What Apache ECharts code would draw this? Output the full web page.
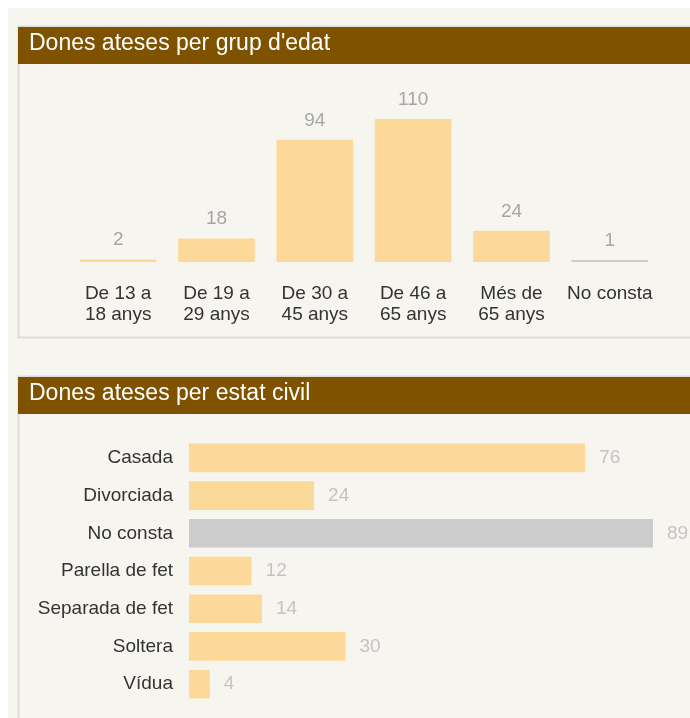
<!DOCTYPE html>
<html>
<head>
<meta charset="utf-8">
<script src="https://cdn.jsdelivr.net/npm/echarts@6/dist/echarts.min.js"></script>
<style>
  html, body { margin: 0; padding: 0; background: #fff; }
  #chart { width: 690px; height: 718px; }
</style>
</head>
<body>
<div id="chart"></div>
<script>
// grup d'edat
var ageCategories = ["De 13 a\n18 anys", "De 19 a\n29 anys", "De 30 a\n45 anys", "De 46 a\n65 anys", "Més de\n65 anys", "No consta"];
var ageValues = [2, 18, 94, 110, 24, 1];

// estat civil
var civilCategories = ["Casada", "Divorciada", "No consta", "Parella de fet", "Separada de fet", "Soltera", "Vídua"];
var civilValues = [76, 24, 89, 12, 14, 30, 4];

var FONT = "'Liberation Sans', Arial, sans-serif";
var BAR = "#fdd999";
var GREY_BAR = "#cccccc";

function barColor(name) {
  return name === "No consta" ? GREY_BAR : BAR;
}

var chart = echarts.init(document.getElementById("chart"));

chart.setOption({
  animation: false,
  backgroundColor: "#ffffff",
  textStyle: { fontFamily: FONT },
  graphic: [
    { type: "rect", z: -10, shape: { x: 8, y: 8, width: 700, height: 720 }, style: { fill: "#f7f5f0" } },
    // box 1
    { type: "rect", z: -9, shape: { x: 18.5, y: 26.5, width: 700, height: 311 }, style: { fill: "#f7f5f0", stroke: "#dcdcdc", lineWidth: 2 } },
    { type: "rect", z: -8, shape: { x: 18, y: 27, width: 680, height: 37 }, style: { fill: "#7f5200" } },
    // box 2
    { type: "rect", z: -9, shape: { x: 18.5, y: 376.5, width: 700, height: 400 }, style: { fill: "#f7f5f0", stroke: "#dcdcdc", lineWidth: 2 } },
    { type: "rect", z: -8, shape: { x: 18, y: 377, width: 680, height: 37 }, style: { fill: "#7f5200" } }
  ],
  title: [
    {
      text: "Dones ateses per grup d'edat",
      left: 24, top: 27,
      textStyle: { color: "#ffffff", fontSize: 23, fontWeight: "normal", fontFamily: FONT }
    },
    {
      text: "Dones ateses per estat civil",
      left: 24, top: 377,
      textStyle: { color: "#ffffff", fontSize: 23, fontWeight: "normal", fontFamily: FONT }
    }
  ],
  grid: [
    { left: 69, width: 590, top: 119, height: 143 },
    { left: 189, width: 464, top: 439, height: 264 }
  ],
  xAxis: [
    {
      gridIndex: 0,
      type: "category",
      data: ageCategories,
      axisLine: { show: false },
      axisTick: { show: false },
      axisLabel: { color: "#333", fontSize: 19, lineHeight: 21, margin: 21, interval: 0, fontFamily: FONT }
    },
    {
      gridIndex: 1,
      type: "value",
      min: 0,
      max: 89,
      show: false
    }
  ],
  yAxis: [
    {
      gridIndex: 0,
      type: "value",
      min: 0,
      max: 110,
      show: false
    },
    {
      gridIndex: 1,
      type: "category",
      data: civilCategories,
      inverse: true,
      axisLine: { show: false },
      axisTick: { show: false },
      axisLabel: { color: "#333", fontSize: 19, margin: 16, fontFamily: FONT }
    }
  ],
  series: [
    {
      type: "bar",
      xAxisIndex: 0,
      yAxisIndex: 0,
      barWidth: "78%",
      barMinHeight: 2,
      data: ageValues.map(function (v, i) {
        return { value: v, itemStyle: { color: barColor(ageCategories[i]) } };
      }),
      label: { show: true, position: "top", distance: 10, color: "#a6a6a6", fontSize: 19, fontFamily: FONT }
    },
    {
      type: "bar",
      xAxisIndex: 1,
      yAxisIndex: 1,
      barWidth: "76%",
      data: civilValues.map(function (v, i) {
        return { value: v, itemStyle: { color: barColor(civilCategories[i]) } };
      }),
      label: { show: true, position: "right", distance: 14, color: "#c4c4c4", fontSize: 19, fontFamily: FONT }
    }
  ]
});
</script>
</body>
</html>
